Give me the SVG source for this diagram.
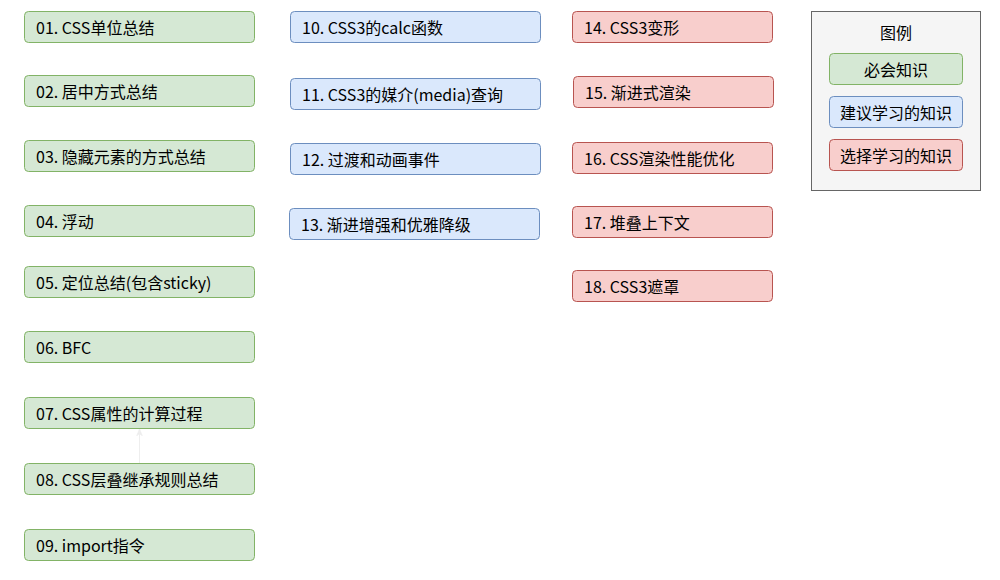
<svg xmlns="http://www.w3.org/2000/svg" width="1000" height="580" viewBox="0 0 1000 580">
<defs>
<style>
text{font-family:"Microsoft YaHei","Noto Sans CJK SC","Noto Sans",sans-serif;font-size:16px;fill:#000;dominant-baseline:central}
.g{fill:#d5e8d4;stroke:#82b366;stroke-width:1}
.b{fill:#dae8fc;stroke:#6c8ebf;stroke-width:1}
.r{fill:#f8cecc;stroke:#b85450;stroke-width:1}
.c{text-anchor:middle}
</style>
<marker id="ah" viewBox="0 0 10 10" refX="9" refY="5" markerWidth="7" markerHeight="7" orient="auto" markerUnits="userSpaceOnUse">
<path d="M0,1 L10,5 L0,9 L3,5 Z" fill="#eeeeee" stroke="#eeeeee"/>
</marker>
</defs>
<rect width="1000" height="580" fill="#fff"/>
<g id="connectors">
<line x1="139.5" y1="463.5" x2="139.5" y2="429.5" stroke="#eeeeee" stroke-width="1" marker-end="url(#ah)"/>
</g>
<g id="n01"><rect class="g" x="24.5" y="11.5" width="230" height="31" rx="4"/><text x="36" y="27">01. CSS单位总结</text></g>
<g id="n02"><rect class="g" x="24.5" y="75.5" width="230" height="31" rx="4"/><text x="36" y="91">02. 居中方式总结</text></g>
<g id="n03"><rect class="g" x="24.5" y="140.5" width="230" height="31" rx="4"/><text x="36" y="156">03. 隐藏元素的方式总结</text></g>
<g id="n04"><rect class="g" x="24.5" y="205.5" width="230" height="31" rx="4"/><text x="36" y="221">04. 浮动</text></g>
<g id="n05"><rect class="g" x="24.5" y="266.5" width="230" height="31" rx="4"/><text x="36" y="282">05. 定位总结(包含sticky)</text></g>
<g id="n06"><rect class="g" x="24.5" y="331.5" width="230" height="31" rx="4"/><text x="36" y="347">06. BFC</text></g>
<g id="n07"><rect class="g" x="24.5" y="397.5" width="230" height="31" rx="4"/><text x="36" y="413">07. CSS属性的计算过程</text></g>
<g id="n08"><rect class="g" x="24.5" y="463.5" width="230" height="31" rx="4"/><text x="36" y="479">08. CSS层叠继承规则总结</text></g>
<g id="n09"><rect class="g" x="24.5" y="529.5" width="230" height="31" rx="4"/><text x="36" y="545">09. import指令</text></g>
<g id="n10"><rect class="b" x="290.5" y="11.5" width="250" height="31" rx="4"/><text x="302" y="27">10. CSS3的calc函数</text></g>
<g id="n11"><rect class="b" x="290.5" y="78.5" width="250" height="31" rx="4"/><text x="302" y="94">11. CSS3的媒介(media)查询</text></g>
<g id="n12"><rect class="b" x="290.5" y="143.5" width="250" height="31" rx="4"/><text x="302" y="159">12. 过渡和动画事件</text></g>
<g id="n13"><rect class="b" x="289.5" y="208.5" width="250" height="31" rx="4"/><text x="301" y="224">13. 渐进增强和优雅降级</text></g>
<g id="n14"><rect class="r" x="572.5" y="11.5" width="200" height="31" rx="4"/><text x="584" y="27">14. CSS3变形</text></g>
<g id="n15"><rect class="r" x="573.5" y="76.5" width="200" height="31" rx="4"/><text x="585" y="92">15. 渐进式渲染</text></g>
<g id="n16"><rect class="r" x="572.5" y="142.5" width="200" height="31" rx="4"/><text x="584" y="158">16. CSS渲染性能优化</text></g>
<g id="n17"><rect class="r" x="572.5" y="206.5" width="200" height="31" rx="4"/><text x="584" y="222">17. 堆叠上下文</text></g>
<g id="n18"><rect class="r" x="572.5" y="270.5" width="200" height="31" rx="4"/><text x="584" y="286">18. CSS3遮罩</text></g>
<g id="legend">
<rect x="811.5" y="11.5" width="169" height="179" fill="#f5f5f5" stroke="#666666"/>
<text class="c" x="896" y="32">图例</text>
<rect class="g" x="829.5" y="53.5" width="133" height="31" rx="4"/><text class="c" x="896" y="69">必会知识</text>
<rect class="b" x="829.5" y="96.5" width="133" height="31" rx="4"/><text class="c" x="896" y="112">建议学习的知识</text>
<rect class="r" x="829.5" y="139.5" width="133" height="31" rx="4"/><text class="c" x="896" y="155">选择学习的知识</text>
</g>
</svg>
